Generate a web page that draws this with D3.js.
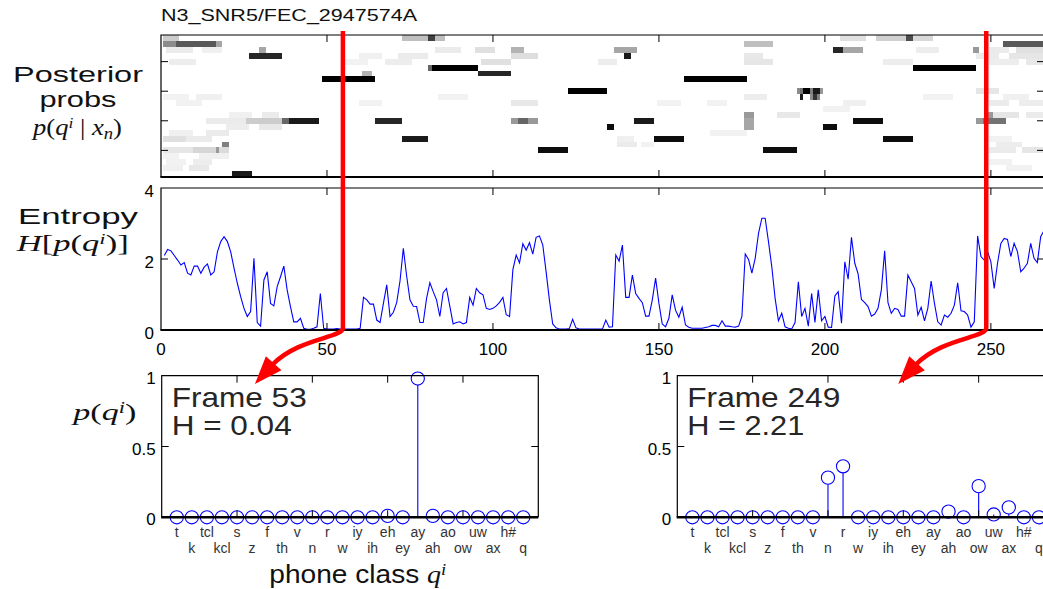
<!DOCTYPE html>
<html><head><meta charset="utf-8">
<script src="https://cdn.jsdelivr.net/npm/d3@7"></script>
<style>
body{margin:0;background:#fff}
svg{display:block}
text{font-family:"Liberation Sans",Arial,Helvetica,sans-serif}
.serif{font-family:"Liberation Serif","Times New Roman",serif}
</style>
</head><body>
<svg id="c" width="1043" height="589"></svg>
<script>
// ---------------- DATA ----------------
const title = "N3_SNR5/FEC_2947574A";
const phones = ["t","k","tcl","kcl","s","z","f","th","v","n","r","w","iy","ih","eh","ey","ay","ah","ao","ow","uw","ax","h#","q"];

// entropy H[p(q^i)] for frames 1..266
const entropy = [
 2.10,2.27,2.23,2.10,1.97,1.83,1.90,1.60,1.55,1.80, 1.80,1.60,1.77,1.86,1.55,1.64,2.20,2.49,2.63,2.49,
 2.20,1.74,1.31,0.94,0.61,0.38,0.52,2.02,0.21,0.11, 1.41,1.64,0.75,0.68,1.22,1.50,1.80,1.13,0.66,0.23,
 0.23,0.33,0.05,0.02,0.02,0.05,0.09,1.03,0.05,0.03, 0.03,0.03,0.04,0.03,0.03,0.03,0.03,0.03,0.03,0.05,
 0.92,0.85,0.73,0.73,0.28,0.21,0.75,1.27,0.38,0.50, 0.77,1.38,2.30,1.52,0.85,0.67,0.66,0.21,0.21,0.89,
 1.33,1.08,0.85,0.38,1.05,1.17,0.67,0.17,0.21,0.23, 0.17,0.21,0.92,0.70,1.17,1.05,0.99,0.61,0.58,0.61,
 0.68,0.78,0.92,0.43,0.38,1.70,2.11,1.89,2.43,2.25, 2.46,2.14,2.61,2.65,2.40,1.65,0.85,0.17,0.06,0.03,
 0.03,0.03,0.04,0.30,0.06,0.03,0.03,0.03,0.03,0.03, 0.03,0.03,0.03,0.28,0.08,0.09,2.11,1.94,2.39,0.92,
 0.92,1.55,1.03,0.89,0.77,0.39,0.39,0.85,1.46,0.75, 0.17,0.09,0.33,0.99,0.56,0.36,0.64,0.14,0.08,0.05,
 0.05,0.05,0.05,0.07,0.09,0.13,0.13,0.09,0.26,0.11, 0.11,0.09,0.08,0.11,0.38,2.14,1.99,1.60,2.02,2.72,
 3.15,3.15,2.49,1.78,0.89,0.26,0.47,0.09,0.05,0.03, 0.21,1.36,0.38,0.61,0.11,1.03,0.21,1.13,0.26,0.38,
 0.08,0.07,0.96,1.08,0.19,1.92,1.43,2.61,1.88,1.58, 0.86,0.77,0.66,0.39,0.45,0.61,1.13,2.23,0.77,0.47,
 0.61,0.58,0.39,0.39,1.55,1.36,1.17,0.42,0.64,0.26, 0.61,1.38,0.75,0.23,0.14,0.42,0.36,0.47,0.70,1.33,
 0.54,0.52,0.42,0.08,0.23,2.65,2.07,1.97,2.21,1.92, 1.17,1.88,2.44,2.58,2.55,2.07,2.44,2.21,1.64,1.74,
 1.88,2.44,2.02,1.90,2.63,2.80
];

// faint background posteriors: [phone, first frame, last frame, probability]
const posteriorFaint = [
 ["k",1,6,0.06],["k",9,14,0.09],["tcl",2,7,0.05],["tcl",10,15,0.07],["kcl",1,5,0.05],["kcl",12,20,0.06],
 ["th",3,9,0.06],["th",14,20,0.08],["ih",1,8,0.05],["ih",11,18,0.06],["v",20,26,0.07],["v",30,36,0.09],
 ["r",21,27,0.06],["r",31,35,0.08],["iy",5,12,0.05],["ow",3,10,0.07],["ax",2,9,0.08],["ax",13,18,0.06],
 ["ow",55,62,0.05],["ow",68,75,0.07],["uw",60,66,0.06],["uw",72,80,0.08],["ax",83,90,0.08],["ax",95,100,0.12],
 ["ow",97,105,0.12],["iy",106,113,0.09],["uw",106,113,0.13],["iy",60,66,0.05],["ih",84,92,0.05],
 ["z",138,143,0.08],["z",145,148,0.05],["f",138,142,0.06],["ow",132,137,0.07],["iy",150,156,0.05],
 ["iy",165,170,0.05],["th",166,176,0.05],["ow",176,184,0.10],["uw",176,181,0.09],["ih",176,182,0.07],
 ["r",186,192,0.09],["w",200,207,0.05],["iy",206,212,0.06],["ow",218,226,0.07],["ax",228,234,0.07],
 ["ih",230,238,0.05],["uw",246,252,0.08],["uw",256,266,0.10],["ow",250,258,0.07],["ow",261,266,0.09],
 ["ax",250,255,0.08],["ax",258,266,0.12],["s",250,257,0.08],["s",260,266,0.10],["z",252,259,0.07],
 ["f",250,256,0.05],["r",251,258,0.10],["r",261,266,0.08],["iy",250,255,0.08],["iy",259,266,0.07],
 ["eh",246,252,0.10],["ih",254,261,0.06],["k",255,262,0.05],["tcl",250,256,0.05]
];
// strong posteriors: [phone, first frame, last frame, probability]
const posteriorSegments = [
 ["q",1,5,0.20],
 ["h#",1,4,0.45],["h#",5,16,0.65],["h#",17,18,0.35],
 ["s",1,9,0.10],["s",10,16,0.16],["s",17,17,0.40],["s",18,20,0.14],["f",1,7,0.12],["f",8,15,0.08],
 ["z",19,20,0.50],
 ["t",22,27,0.90],
 ["uw",27,36,0.85],["ax",30,31,0.35],
 ["n",14,25,0.08],["n",26,36,0.20],["n",37,38,0.60],["n",39,47,0.90],
 ["ay",49,64,1.00],["ah",61,63,0.30],
 ["n",65,72,0.85],
 ["f",73,80,0.90],
 ["q",73,80,0.25],["q",81,82,0.75],["q",83,85,0.25],
 ["ao",81,81,0.60],["ao",82,95,1.00],
 ["ah",96,105,0.85],
 ["ax",106,109,0.30],
 ["n",106,107,0.40],["n",108,110,0.60],["n",111,113,0.40],
 ["s",114,122,0.95],
 ["eh",123,134,1.00],
 ["v",135,136,0.95],
 ["ax",137,143,0.35],["uw",140,141,0.90],
 ["n",143,148,0.90],
 ["f",149,157,0.95],
 ["ay",158,176,1.00],
 ["r",176,178,0.40],["n",176,178,0.35],["v",176,178,0.35],["h#",176,184,0.25],
 ["s",182,191,0.95],
 ["eh",192,192,0.45],["eh",193,193,0.55],["eh",194,195,1.00],["eh",196,196,0.50],["eh",197,198,0.90],["eh",199,199,0.40],
 ["ih",193,193,0.90],["ih",196,196,0.45],["ih",197,197,0.80],["ih",198,198,0.50],
 ["v",200,203,0.95],
 ["ax",203,205,0.85],["ax",206,211,0.35],
 ["n",209,217,0.95],
 ["f",218,226,0.95],
 ["q",205,212,0.12],["q",216,224,0.18],["q",225,226,0.70],["q",227,232,0.15],
 ["ao",227,245,1.00],
 ["ax",245,246,0.40],
 ["n",246,247,0.40],["n",248,254,0.55],
 ["r",249,250,0.40],
 ["h#",254,266,0.65]
];

// per-class posteriors of the two highlighted frames
const frame53Probs  = [0,0,0,0,0,0,0,0,0,0,0,0,0,0,0.01,0,0.98,0.01,0,0,0,0,0,0];
const frame249Probs = [0,0,0,0,0,0,0,0,0,0.28,0.36,0,0,0,0,0,0,0.04,0,0.22,0.02,0.07,0,0];
const frameLabels = [["Frame 53","H = 0.04"],["Frame 249","H = 2.21"]];
const arrowFrames = [54.8, 248.6];   // where the red arrows are drawn

const frameTicks = [0,50,100,150,200,250];
const entropyTicks = [0,2,4];
const rowTicks = [5,10,15,20];
const probTicks = [0,0.5,1];
const probTickLabels = ["0","0.5","1"];
const classTicks = [5,10,15,20];

// ---------------- DRAW ----------------
const svg = d3.select("#c");
svg.append("rect").attr("width",1043).attr("height",589).attr("fill","#fff");
const defs = svg.append("defs");

const xF = d3.scaleLinear().domain([0,266]).range([161,1044]);
const yRow = d3.scaleLinear().domain([0.5,24.5]).range([177,35]);
const yH = d3.scaleLinear().domain([0,4]).range([330,188]);
const xS = [d3.scaleLinear().domain([0,25]).range([161.7,538.3]),
            d3.scaleLinear().domain([0,25]).range([677.3,1054])];
const yP = d3.scaleLinear().domain([0,1]).range([517.3,375.7]);
const gray = d3.scaleLinear().domain([0,1]).range(["#ffffff","#000000"]);

const TL = 7;
function frameBox(x0,x1,y0,y1,bw){
  const g = svg.append("g");
  g.append("path").attr("d",`M${x0},${y1}V${y0}H${x1}V${y1}`).attr("fill","none").attr("stroke","#000").attr("stroke-width",1.2);
  g.append("line").attr("x1",x0-0.6).attr("x2",x1).attr("y1",y1).attr("y2",y1).attr("stroke","#000").attr("stroke-width",bw);
  return g;
}
function xTicks(g,scale,vals,y0,y1){
  vals.forEach(v=>{
    const x=scale(v);
    g.append("line").attr("x1",x).attr("x2",x).attr("y1",y1).attr("y2",y1-TL).attr("stroke","#000");
    g.append("line").attr("x1",x).attr("x2",x).attr("y1",y0).attr("y2",y0+TL).attr("stroke","#000");
  });
}
function yTicks(g,scale,vals,x0,x1){
  vals.forEach(v=>{
    const y=scale(v);
    g.append("line").attr("x1",x0).attr("x2",x0+TL).attr("y1",y).attr("y2",y).attr("stroke","#000");
    g.append("line").attr("x1",x1).attr("x2",x1-TL).attr("y1",y).attr("y2",y).attr("stroke","#000");
  });
}

// title
svg.append("text").attr("x",161).attr("y",21).attr("font-size",17).attr("fill","#111")
  .attr("textLength",256).attr("lengthAdjust","spacingAndGlyphs").text(title);

// ---- posterior image ----
defs.append("clipPath").attr("id","clipHM").append("rect")
  .attr("x",xF(0)).attr("y",yRow(24.5)).attr("width",xF(266)-xF(0)).attr("height",yRow(0.5)-yRow(24.5));
svg.append("g").attr("clip-path","url(#clipHM)").attr("shape-rendering","crispEdges")
  .selectAll("rect").data(posteriorFaint.concat(posteriorSegments)).join("rect")
  .attr("x",d=>xF(d[1]-0.5))
  .attr("width",d=>xF(d[2]+0.5)-xF(d[1]-0.5))
  .attr("y",d=>yRow(phones.indexOf(d[0])+1.5))
  .attr("height",d=>yRow(phones.indexOf(d[0])+0.5)-yRow(phones.indexOf(d[0])+1.5))
  .attr("fill",d=>gray(d[3]));
{
  const g = frameBox(xF(0),xF(266)+2,yRow(24.5),yRow(0.5),2);
  xTicks(g,xF,frameTicks.slice(1),yRow(24.5),yRow(0.5));
  yTicks(g,yRow,rowTicks,xF(0),xF(266));
}

// ---- entropy ----
defs.append("clipPath").attr("id","clipH").append("rect")
  .attr("x",xF(0)).attr("y",yH(4)).attr("width",xF(266)-xF(0)).attr("height",yH(0)-yH(4)+2);
svg.append("path").attr("clip-path","url(#clipH)")
  .datum(entropy)
  .attr("d",d3.line().x((d,i)=>xF(i+1)).y(d=>yH(d)))
  .attr("fill","none").attr("stroke","#0000ff").attr("stroke-width",1.1);
{
  const g = frameBox(xF(0),xF(266)+2,yH(4),yH(0),2);
  xTicks(g,xF,frameTicks.slice(1),yH(4),yH(0));
  yTicks(g,yH,entropyTicks.slice(1,2),xF(0),xF(266));
  g.selectAll("text.xl").data(frameTicks).join("text")
    .attr("x",d=>xF(d)).attr("y",yH(0)+25).attr("text-anchor","middle").attr("font-size",17).text(d=>d);
  g.selectAll("text.yl").data(entropyTicks).join("text")
    .attr("x",xF(0)-7).attr("y",d=>yH(d)+9).attr("text-anchor","end").attr("font-size",17).text(d=>d);
}

// ---- stem plots ----
[frame53Probs, frame249Probs].forEach((vals,k)=>{
  const x = xS[k];
  const g = svg.append("g");
  g.selectAll("line.stem").data(vals).join("line")
    .attr("x1",(d,i)=>x(i+1)).attr("x2",(d,i)=>x(i+1))
    .attr("y1",yP(0)).attr("y2",d=>yP(d)+6.5*(d>0.03?1:0))
    .attr("stroke","#0000ff").attr("stroke-width",1.1);
  const b = frameBox(x(0),x(25),yP(1),yP(0),2.6);
  xTicks(b,x,classTicks,yP(1),yP(0));
  yTicks(b,yP,[0.5],x(0),x(25));
  g.selectAll("circle").data(vals).join("circle")
    .attr("cx",(d,i)=>x(i+1)).attr("cy",d=>yP(d)).attr("r",6.6)
    .attr("fill","none").attr("stroke","#0000ff").attr("stroke-width",1.1);
  g.selectAll("text.yl").data(probTicks).join("text")
    .attr("x",x(0)-6).attr("y",(d,i)=>yP(d)+8).attr("text-anchor","end").attr("font-size",17)
    .text((d,i)=>probTickLabels[i]);
  g.selectAll("text.ph").data(phones).join("text")
    .attr("x",(d,i)=>x(i+1)).attr("y",(d,i)=> i%2===0 ? 536.5 : 552.5)
    .attr("text-anchor","middle").attr("font-size",14).attr("fill","#333").text(d=>d);
  g.append("text").attr("x",x(0)+10).attr("y",406.7).attr("font-size",28).attr("fill","#262626")
    .attr("textLength",k===0?135:153).attr("lengthAdjust","spacingAndGlyphs").text(frameLabels[k][0]);
  g.append("text").attr("x",x(0)+10).attr("y",435).attr("font-size",28).attr("fill","#262626")
    .attr("textLength",k===0?120:117).attr("lengthAdjust","spacingAndGlyphs").text(frameLabels[k][1]);
});

// ---- left labels ----
function sLabel(txt,y,len,size){
  svg.append("text").attr("x",78).attr("y",y).attr("text-anchor","middle").attr("font-size",size)
    .attr("fill","#111").attr("textLength",len).attr("lengthAdjust","spacingAndGlyphs").text(txt);
}
sLabel("Posterior",82,130,22.5);
sLabel("probs",107.2,77,22.5);
sLabel("Entropy",224,120,22.5);

function mathLabel(x,y,len,size,parts){
  const t = svg.append("text").attr("class","serif").attr("x",x).attr("y",y).attr("font-size",size)
    .attr("fill","#111").attr("textLength",len).attr("lengthAdjust","spacingAndGlyphs");
  parts.forEach(p=>{
    const s = t.append("tspan").text(p.t);
    if(p.i) s.attr("font-style","italic");
    if(p.sup) s.attr("font-size",size*0.66).attr("dy",-size*0.3);
    if(p.sub) s.attr("font-size",size*0.7).attr("dy",size*0.2);
    if(p.back) s.attr("dy",p.back*size);
    if(p.sans) s.attr("font-family","Liberation Sans, Arial, sans-serif");
  });
  return t;
}
mathLabel(33,134.5,89,22.5,[{t:"p",i:1},{t:"("},{t:"q",i:1},{t:"i",i:1,sup:1},{t:" | ",back:0.3},{t:"x",i:1},{t:"n",i:1,sub:1},{t:")",back:-0.2}]);
mathLabel(16.7,251,112,23,[{t:"H",i:1},{t:"["},{t:"p",i:1},{t:"("},{t:"q",i:1},{t:"i",i:1,sup:1},{t:")]",back:0.3}]);
mathLabel(73.3,420,63,24,[{t:"p",i:1},{t:"("},{t:"q",i:1},{t:"i",i:1,sup:1},{t:")",back:0.3}]);
mathLabel(269.3,582.7,177,26,[{t:"phone class ",sans:1},{t:"q",i:1},{t:"i",i:1,sup:1}]);

// ---- red arrows ----
arrowFrames.forEach(f=>{
  const X = xF(f);
  const tip = [X-88, 384];
  const c2 = [X-45, 338];
  let dx = tip[0]-(X-69), dy = tip[1]-363;
  const L = Math.hypot(dx,dy); dx/=L; dy/=L;
  const base = [tip[0]-28*dx, tip[1]-28*dy];
  svg.append("path")
    .attr("d",`M${X},31 V328 C${X},338 ${c2[0]},${c2[1]} ${base[0]+2*dx},${base[1]+2*dy}`)
    .attr("fill","none").attr("stroke","#ff0000").attr("stroke-width",4.5);
  const px=-dy, py=dx;
  svg.append("path")
    .attr("d",`M${tip[0]},${tip[1]} L${base[0]+10.5*px},${base[1]+10.5*py} L${base[0]-10.5*px},${base[1]-10.5*py}Z`)
    .attr("fill","#ff0000");
});
</script>
</body></html>
